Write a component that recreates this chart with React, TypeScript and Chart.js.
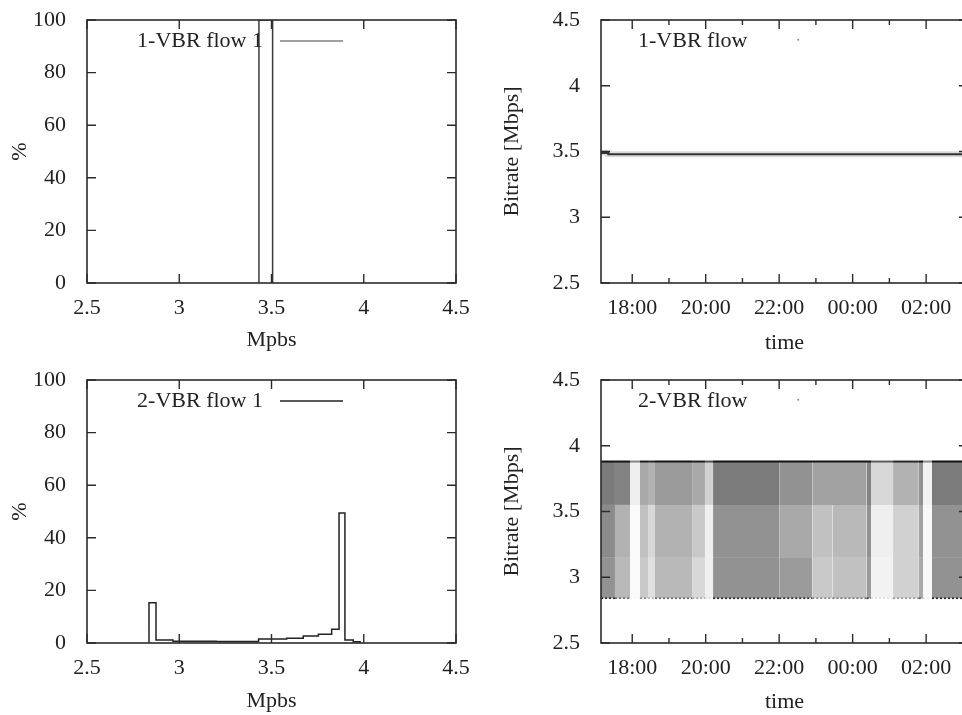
import React, { useEffect, useRef } from 'react';
import Chart from 'chart.js/auto';

const FONT = '"Liberation Serif", "Times New Roman", serif';
const TEXT = '#222222';
const INK = '#2b2b2b';

// ---- Histogram (left) data ----
const histXTicks = [2.5, 3, 3.5, 4, 4.5];
const histYTicks = [0, 20, 40, 60, 80, 100];

const hist1Label = '1-VBR flow 1';
const hist1Edges = [3.432, 3.506];
const hist1Values = [100];

const hist2Label = '2-VBR flow 1';
const hist2Edges = [2.836, 2.874, 2.966, 3.2, 3.43, 3.582, 3.672, 3.754, 3.826, 3.866, 3.898, 3.943, 3.98];
const hist2Values = [15.3, 1.1, 0.7, 0.6, 1.5, 1.8, 2.7, 3.3, 5.2, 49.4, 1.1, 0.5];

// ---- Time series (right) data ----
const timeTickHours = [18, 19, 20, 21, 22, 23, 24, 25, 26, 27];
const timeTickLabels = ['18:00', '', '20:00', '', '22:00', '', '00:00', '', '02:00', ''];
const rateTicks = [2.5, 3, 3.5, 4, 4.5];
const rateTickLabels = ['2.5', '3', '3.5', '4', '4.5'];

const flow1Label = '1-VBR flow';
const flow1Times = [17.15, 17.35, 18, 19, 20, 21, 22, 23, 24, 25, 26, 27.14];
const flow1Rates = [3.49, 3.479, 3.479, 3.479, 3.479, 3.479, 3.479, 3.479, 3.479, 3.479, 3.479, 3.479];
const flow1StrayTimes = [22.52];
const flow1StrayRates = [4.35];

const flow2Label = '2-VBR flow';
// band limits (Mbps): top edge, two splits, bottom edge
const flow2Levels = [3.88, 3.55, 3.15, 2.84];
// time slices (hours since midnight of first day) and point density read per slice
const flow2SliceStart = [17.15, 17.53, 17.94, 18.21, 18.43, 18.62, 19.63, 19.98, 20.2, 22.0, 22.9, 23.45, 24.38, 24.5, 25.1, 25.8, 25.92, 26.16];
const flow2SliceEnd = 27.14;
const flow2DensityTop = [0.85, 0.8, 0.1, 0.55, 0.5, 0.65, 0.55, 0.3, 0.85, 0.7, 0.6, 0.6, 0.8, 0.25, 0.5, 0.7, 0.08, 0.85];
const flow2DensityMid = [0.75, 0.5, 0.03, 0.4, 0.25, 0.5, 0.35, 0.1, 0.7, 0.55, 0.4, 0.45, 0.7, 0.1, 0.3, 0.6, 0.05, 0.7];
const flow2DensityLow = [0.7, 0.45, 0.03, 0.35, 0.2, 0.45, 0.25, 0.1, 0.7, 0.65, 0.35, 0.4, 0.65, 0.08, 0.3, 0.55, 0.05, 0.7];
const flow2StrayTimes = [22.52];
const flow2StrayRates = [4.35];

type Pt = { x: number; y: number };

function histPoints(edges: number[], vals: number[]): Pt[] {
  const pts: Pt[] = [{ x: edges[0], y: 0 }];
  vals.forEach((v, i) => pts.push({ x: edges[i], y: v }));
  pts.push({ x: edges[edges.length - 1], y: 0 });
  return pts;
}

function framePlugin(isMajorX: (v: number) => boolean) {
  return {
    id: 'frame',
    afterDatasetsDraw(chart: any) {
      const { ctx, chartArea: a, scales } = chart;
      const xs = scales.x;
      const ys = scales.y;
      ctx.save();
      ctx.strokeStyle = INK;
      ctx.lineWidth = 1.4;
      ctx.beginPath();
      for (const t of xs.ticks) {
        if (t.value < xs.min || t.value > xs.max) continue;
        const px = xs.getPixelForValue(t.value);
        const len = isMajorX(t.value) ? 9 : 5;
        ctx.moveTo(px, a.bottom);
        ctx.lineTo(px, a.bottom - len);
        ctx.moveTo(px, a.top);
        ctx.lineTo(px, a.top + len);
      }
      for (const t of ys.ticks) {
        const py = ys.getPixelForValue(t.value);
        ctx.moveTo(a.left, py);
        ctx.lineTo(a.left + 9, py);
        ctx.moveTo(a.right, py);
        ctx.lineTo(a.right - 9, py);
      }
      ctx.stroke();
      ctx.lineWidth = 1.6;
      ctx.strokeRect(a.left, a.top, a.right - a.left, a.bottom - a.top);
      ctx.restore();
    },
  };
}

function keyPlugin(text: string, withLine: boolean, lineColor: string) {
  return {
    id: 'key',
    afterDraw(chart: any) {
      const { ctx, chartArea: a } = chart;
      ctx.save();
      ctx.font = `22px ${FONT}`;
      ctx.fillStyle = TEXT;
      ctx.textBaseline = 'middle';
      const y = a.top + 21;
      if (withLine) {
        ctx.textAlign = 'right';
        ctx.fillText(text, a.left + 176, y);
        ctx.strokeStyle = lineColor;
        ctx.lineWidth = 1.5;
        ctx.beginPath();
        ctx.moveTo(a.left + 193, y);
        ctx.lineTo(a.left + 256, y);
        ctx.stroke();
      } else {
        ctx.textAlign = 'left';
        ctx.fillText(text, a.left + 37, y);
      }
      ctx.restore();
    },
  };
}

const tickFont = { family: FONT, size: 22 };

function fixX(h: number) {
  return (s: any) => {
    s.height = h;
    s.paddingLeft = 0;
    s.paddingRight = 0;
  };
}
function fixY(w: number) {
  return (s: any) => {
    s.width = w;
    s.paddingTop = 0;
    s.paddingBottom = 0;
  };
}

function histConfig(label: string, edges: number[], vals: number[], color: string, keyColor: string, xTitlePad: number, xHeight: number) {
  return {
    type: 'line',
    data: {
      datasets: [
        {
          label,
          data: histPoints(edges, vals),
          stepped: true,
          borderColor: color,
          borderWidth: 1.5,
          pointRadius: 0,
          fill: false,
        },
      ],
    },
    options: {
      responsive: false,
      animation: false,
      events: [],
      layout: { padding: { top: 20, right: 25, left: 0, bottom: 0 } },
      plugins: { legend: { display: false }, tooltip: { enabled: false } },
      scales: {
        x: {
          type: 'linear',
          min: 2.5,
          max: 4.5,
          grid: { display: false },
          border: { display: false },
          afterBuildTicks: (s: any) => {
            s.ticks = histXTicks.map((v) => ({ value: v }));
          },
          afterFit: fixX(xHeight),
          ticks: {
            padding: 4,
            autoSkip: false,
            maxRotation: 0,
            color: TEXT,
            font: tickFont,
            callback: (v: number) => String(v),
          },
          title: { display: true, text: 'Mpbs', color: TEXT, font: tickFont, padding: { top: 0, bottom: xTitlePad } },
        },
        y: {
          type: 'linear',
          min: 0,
          max: 100,
          grid: { display: false },
          border: { display: false },
          afterBuildTicks: (s: any) => {
            s.ticks = histYTicks.map((v) => ({ value: v }));
          },
          afterFit: fixY(87),
          ticks: { padding: 13, color: TEXT, font: tickFont, callback: (v: number) => String(v) },
          title: { display: true, text: '%', color: TEXT, font: tickFont, padding: { top: 7, bottom: 0 } },
        },
      },
    },
    plugins: [framePlugin(() => true), keyPlugin(label, true, keyColor)],
  };
}

function timeScales(xTitlePad: number, xHeight: number) {
  return {
    x: {
      type: 'linear',
      min: 17.15,
      max: 27.14,
      grid: { display: false },
      border: { display: false },
      afterBuildTicks: (s: any) => {
        s.ticks = timeTickHours.map((v) => ({ value: v }));
      },
      afterFit: fixX(xHeight),
      ticks: {
        padding: 4,
        autoSkip: false,
        maxRotation: 0,
        color: TEXT,
        font: tickFont,
        callback: (_v: number, i: number) => timeTickLabels[i] ?? '',
      },
      title: { display: true, text: 'time', color: TEXT, font: tickFont, padding: { top: 0, bottom: xTitlePad } },
    },
    y: {
      type: 'linear',
      min: 2.5,
      max: 4.5,
      grid: { display: false },
      border: { display: false },
      afterBuildTicks: (s: any) => {
        s.ticks = rateTicks.map((v) => ({ value: v }));
      },
      afterFit: fixY(120),
      ticks: { padding: 13, color: TEXT, font: tickFont, callback: (_v: number, i: number) => rateTickLabels[i] ?? '' },
      title: { display: true, text: 'Bitrate [Mbps]', color: TEXT, font: tickFont, padding: { top: 18, bottom: 0 } },
    },
  };
}

const isEvenHour = (v: number) => Math.round(v) % 2 === 0;

function flow1Config() {
  const pts = flow1Times.map((t, i) => ({ x: t, y: flow1Rates[i] }));
  return {
    type: 'line',
    data: {
      datasets: [
        {
          label: flow1Label + ' spread',
          data: pts,
          stepped: true,
          borderColor: 'rgba(90,90,90,0.22)',
          borderWidth: 6,
          pointRadius: 0,
          fill: false,
        },
        {
          label: flow1Label,
          data: pts,
          stepped: true,
          borderColor: '#2a2a2a',
          borderWidth: 2.2,
          pointRadius: 0,
          fill: false,
        },
        {
          label: 'stray',
          data: flow1StrayTimes.map((t, i) => ({ x: t, y: flow1StrayRates[i] })),
          showLine: false,
          pointRadius: 1,
          pointBackgroundColor: '#888',
          pointBorderWidth: 0,
        },
      ],
    },
    options: {
      responsive: false,
      animation: false,
      events: [],
      layout: { padding: { top: 20, right: 5, left: 0, bottom: 0 } },
      plugins: { legend: { display: false }, tooltip: { enabled: false } },
      scales: timeScales(4, 77),
    },
    plugins: [framePlugin(isEvenHour), keyPlugin(flow1Label, false, '#000')],
  };
}

const shade = (d: number, k: number) => `rgba(20,20,20,${Math.min(1, d * k).toFixed(3)})`;

function flow2Config() {
  const xs = [...flow2SliceStart, flow2SliceEnd];
  const densities = [flow2DensityTop, flow2DensityMid, flow2DensityLow];
  const datasets: any[] = [];
  densities.forEach((dens, b) => {
    datasets.push({
      label: 'band ' + b,
      data: xs.map((x) => ({ x, y: flow2Levels[b] })),
      borderWidth: 0,
      borderColor: 'rgba(0,0,0,0)',
      pointRadius: 0,
      fill: { value: flow2Levels[b + 1] },
      backgroundColor: shade(0.5, 0.66),
      segment: {
        backgroundColor: (c: any) => shade(dens[c.p0DataIndex] ?? 0, 0.66),
      },
    });
  });
  datasets.push({
    label: 'low edge',
    data: xs.map((x) => ({ x, y: flow2Levels[3] })),
    borderWidth: 1.6,
    borderDash: [2, 2],
    borderColor: '#333',
    pointRadius: 0,
    fill: false,
    segment: {
      borderColor: (c: any) => shade(flow2DensityLow[c.p0DataIndex] ?? 0, 1.3),
    },
  });
  datasets.push({
    label: 'high edge',
    data: xs.map((x) => ({ x, y: flow2Levels[0] })),
    borderWidth: 2,
    borderColor: '#222',
    pointRadius: 0,
    fill: false,
    segment: {
      borderColor: (c: any) => shade(0.4 + (flow2DensityTop[c.p0DataIndex] ?? 0), 1),
    },
  });
  datasets.push({
    label: 'stray',
    data: flow2StrayTimes.map((t, i) => ({ x: t, y: flow2StrayRates[i] })),
    showLine: false,
    pointRadius: 1,
    pointBackgroundColor: '#888',
    pointBorderWidth: 0,
  });
  return {
    type: 'line',
    data: { datasets },
    options: {
      responsive: false,
      animation: false,
      events: [],
      layout: { padding: { top: 20, right: 5, left: 0, bottom: 0 } },
      plugins: { legend: { display: false }, tooltip: { enabled: false } },
      scales: timeScales(0, 72),
    },
    plugins: [framePlugin(isEvenHour), keyPlugin(flow2Label, false, '#000')],
  };
}

export default function App() {
  const c1 = useRef<HTMLCanvasElement>(null);
  const c2 = useRef<HTMLCanvasElement>(null);
  const c3 = useRef<HTMLCanvasElement>(null);
  const c4 = useRef<HTMLCanvasElement>(null);

  useEffect(() => {
    Chart.defaults.font.family = FONT;
    Chart.defaults.font.size = 22;
    Chart.defaults.color = TEXT;
    const charts: Chart[] = [];
    if (c1.current) charts.push(new Chart(c1.current, histConfig(hist1Label, hist1Edges, hist1Values, '#3a3a3a', '#808080', 7, 77) as any));
    if (c2.current) charts.push(new Chart(c2.current, flow1Config() as any));
    if (c3.current) charts.push(new Chart(c3.current, histConfig(hist2Label, hist2Edges, hist2Values, '#222222', '#222222', 1, 72) as any));
    if (c4.current) charts.push(new Chart(c4.current, flow2Config() as any));
    return () => charts.forEach((c) => c.destroy());
  }, []);

  const cs = (left: number, top: number): React.CSSProperties => ({ position: 'absolute', left, top, display: 'block' });

  return (
    <div style={{ position: 'absolute', left: 0, top: 0, width: 962, height: 715, overflow: 'hidden', background: '#fff' }}>
      <canvas ref={c1} width={481} height={360} style={cs(0, 0)} />
      <canvas ref={c2} width={492} height={360} style={cs(481, 0)} />
      <canvas ref={c3} width={481} height={355} style={cs(0, 360)} />
      <canvas ref={c4} width={492} height={355} style={cs(481, 360)} />
    </div>
  );
}
